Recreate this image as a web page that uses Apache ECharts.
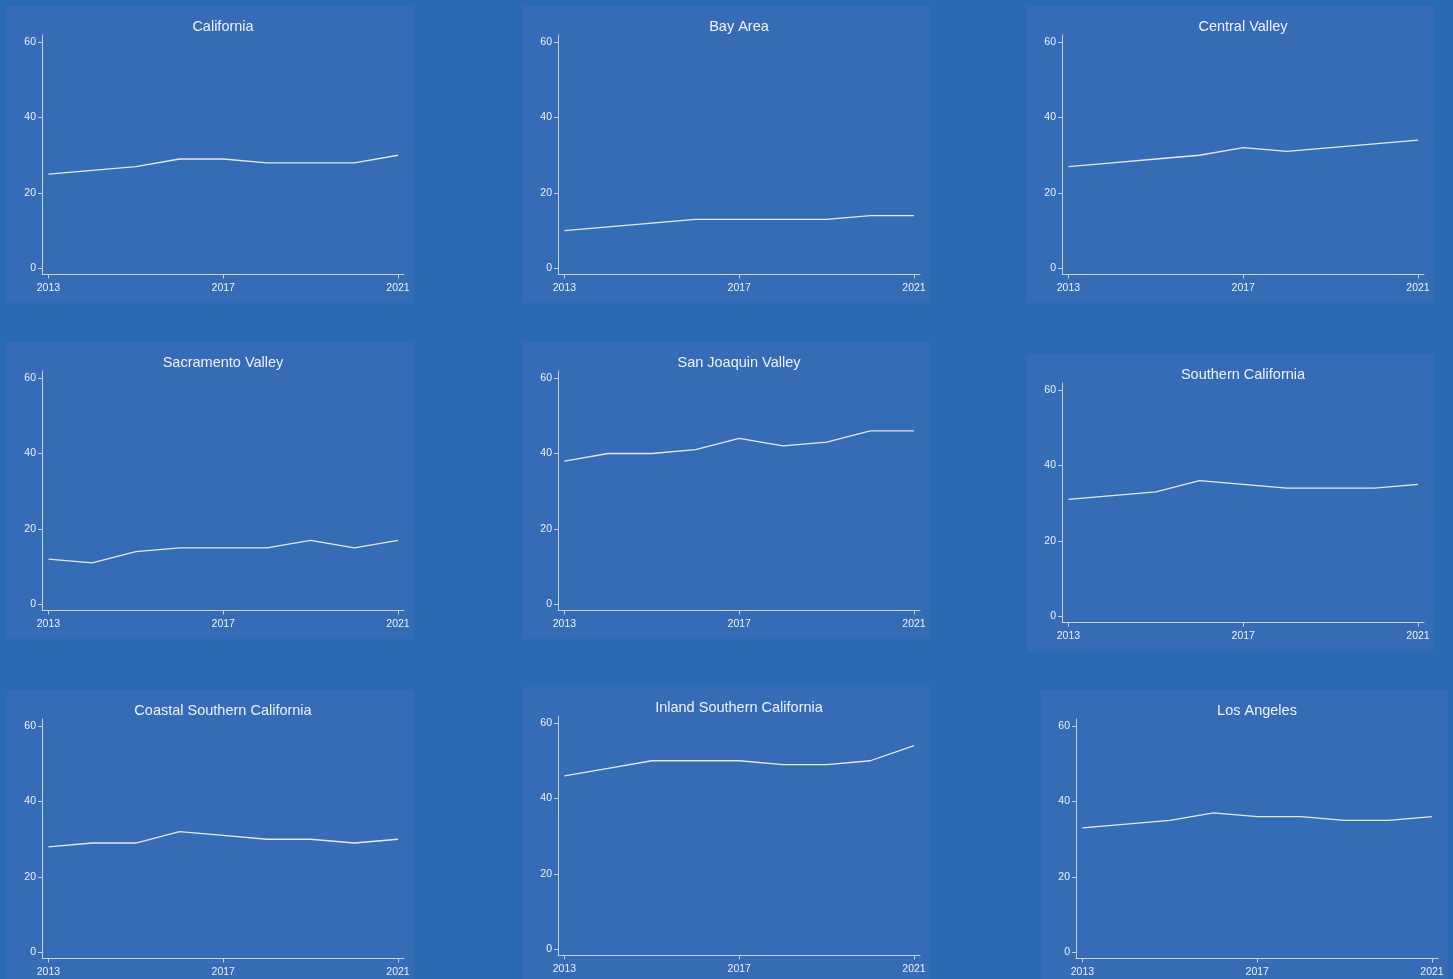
<!DOCTYPE html>
<html>
<head>
<meta charset="utf-8">
<script src="https://cdn.jsdelivr.net/npm/echarts@6/dist/echarts.min.js"></script>
<style>
html,body{margin:0;padding:0;background:#2a69b4;}
#chart{width:1453px;height:979px;}
</style>
</head>
<body>
<div id="chart"></div>
<script>
// ---- data ----
const years = [2013, 2014, 2015, 2016, 2017, 2018, 2019, 2020, 2021];
const yTicks = [0, 20, 40, 60];
const xTicks = [2013, 2017, 2021];
const regions = ["California", "Bay Area", "Central Valley", "Sacramento Valley", "San Joaquin Valley", "Southern California", "Coastal Southern California", "Inland Southern California", "Los Angeles"];
const california = [25, 26, 27, 29, 29, 28, 28, 28, 30];
const bayArea = [10, 11, 12, 13, 13, 13, 13, 14, 14];
const centralValley = [27, 28, 29, 30, 32, 31, 32, 33, 34];
const sacramentoValley = [12, 11, 14, 15, 15, 15, 17, 15, 17];
const sanJoaquinValley = [38, 40, 40, 41, 44, 42, 43, 46, 46];
const southernCalifornia = [31, 32, 33, 36, 35, 34, 34, 34, 35];
const coastalSouthernCalifornia = [28, 29, 29, 32, 31, 30, 30, 29, 30];
const inlandSouthernCalifornia = [46, 48, 50, 50, 50, 49, 49, 50, 54];
const losAngeles = [33, 34, 35, 37, 36, 36, 35, 35, 36];
const seriesValues = [california, bayArea, centralValley, sacramentoValley, sanJoaquinValley, southernCalifornia, coastalSouthernCalifornia, inlandSouthernCalifornia, losAngeles];

// ---- layout (panel top-left corners) ----
const panelPos = [[7,6],[523,6],[1027,6],[7,342],[523,342],[1027,354],[7,690],[523,687],[1041,690]];
const PW = 407, PH = 297;
const G = {left:35, top:29, width:362, height:239.5};
const panelColor = '#366bb5';
const textColor = '#eef2f8';
const axisColor = '#c3d0e6';

const chart = echarts.init(document.getElementById('chart'), null, {renderer:'canvas'});
const grids = [], xAxes = [], yAxes = [], series = [], titles = [], graphics = [];
panelPos.forEach((p, i) => {
  graphics.push({type:'rect', silent:true, z:-10, shape:{x:p[0], y:p[1], width:PW, height:PH}, style:{fill:panelColor}});
  grids.push({left:p[0]+G.left, top:p[1]+G.top, width:G.width, height:G.height, containLabel:false});
  titles.push({text:regions[i], left:p[0]+G.left+G.width/2, top:p[1]+13, textAlign:'center', padding:0,
    textStyle:{color:textColor, fontSize:14.5, fontWeight:'normal', fontFamily:'Liberation Sans, Arial, sans-serif'}});
  xAxes.push({type:'value', gridIndex:i, min:2012.853, max:2021.137,
    axisLine:{show:true, onZero:false, lineStyle:{color:axisColor, width:1}},
    axisTick:{show:true, length:4, lineStyle:{color:axisColor}, customValues:xTicks},
    axisLabel:{color:textColor, fontSize:10.5, margin:8, fontFamily:'Liberation Sans, Arial, sans-serif', customValues:xTicks, formatter: v => String(v)},
    splitLine:{show:false}});
  yAxes.push({type:'value', gridIndex:i, min:-1.6, max:61.86,
    axisLine:{show:true, onZero:false, lineStyle:{color:axisColor, width:1}},
    axisTick:{show:true, length:4, lineStyle:{color:axisColor}, customValues:yTicks},
    axisLabel:{color:textColor, fontSize:10.5, margin:6, fontFamily:'Liberation Sans, Arial, sans-serif', customValues:yTicks},
    splitLine:{show:false}});
  series.push({type:'line', xAxisIndex:i, yAxisIndex:i, symbol:'none', silent:true,
    lineStyle:{color:'#e8e8e8', width:1.3},
    data: years.map((y, k) => [y, seriesValues[i][k]])});
});

chart.setOption({
  backgroundColor:'#2a69b4',
  animation:false,
  title:titles,
  grid:grids,
  xAxis:xAxes,
  yAxis:yAxes,
  series:series,
  graphic:graphics
});
</script>
</body>
</html>
